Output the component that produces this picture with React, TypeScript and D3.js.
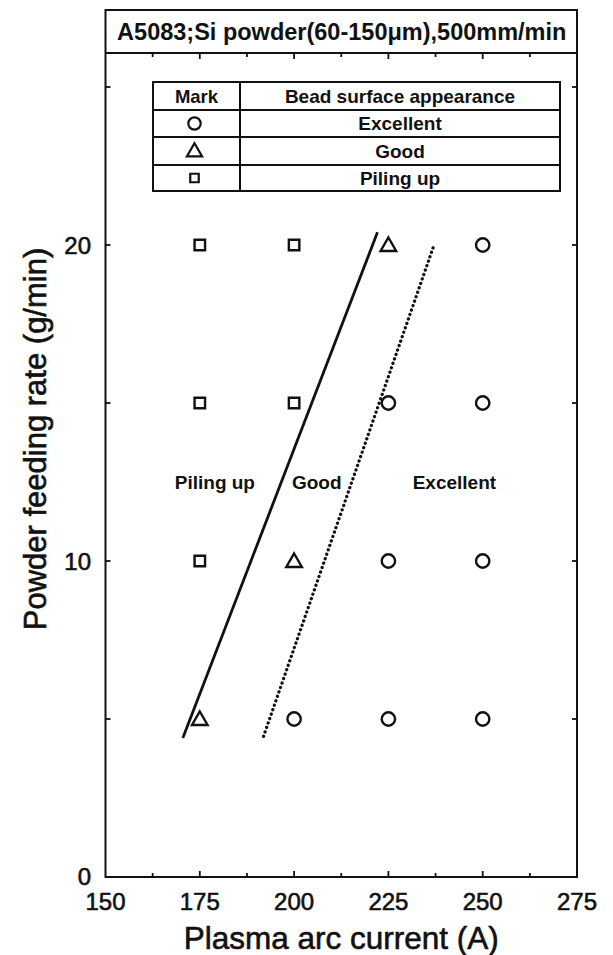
import React from 'react';
import * as d3 from 'd3';

// measured points: plasma arc current (A) vs powder feeding rate (g/min)
const currents = [175, 200, 225, 250];
const feedRates = [20, 15, 10, 5];
// mark at each (current, rate); rows follow currents, columns follow feedRates
const marks = [
  ['square', 'square', 'square', 'triangle'],
  ['square', 'square', 'triangle', 'circle'],
  ['triangle', 'circle', 'circle', 'circle'],
  ['circle', 'circle', 'circle', 'circle'],
];

const legendMarks = ['circle', 'triangle', 'square'];
const legendLabels = ['Excellent', 'Good', 'Piling up'];

// boundary lines [current, rate]
const goodLimit: [number, number][] = [[170.5, 4.4], [222.1, 20.4]];
const excellentLimit: [number, number][] = [[191.9, 4.45], [237.1, 20.0]];

const regionLabels = ['Piling up', 'Good', 'Excellent'];
const regionCurrents = [179, 206, 242.5];
const regionRate = 12.5;

const xTicks = [150, 175, 200, 225, 250, 275];
const yTicks = [0, 10, 20];

const W = 613;
const H = 955;
const left = 105.5;
const right = 577;
const bottom = 877;
const frameTop = 10;
const titleLine = 53;

const FONT = '"Liberation Sans", Arial, Helvetica, sans-serif';
const INK = '#111';

const symbolType: Record<string, d3.SymbolType> = {
  circle: d3.symbolCircle,
  triangle: d3.symbolTriangle,
  square: d3.symbolSquare,
};
const symbolSize: Record<string, number> = {
  circle: 140,
  triangle: 105,
  square: 110,
};

function markPath(kind: string, size?: number) {
  return d3.symbol().type(symbolType[kind]).size(size ?? symbolSize[kind])() || '';
}

// slightly heavier regular text, like the scanned figure
const heavy = { stroke: INK, strokeWidth: 0.6, paintOrder: 'stroke' as const };

export default function App() {
  const x = d3.scaleLinear().domain([150, 275]).range([left, right]);
  const y = d3.scaleLinear().domain([0, 20]).range([bottom, 245]);

  const line = d3.line<[number, number]>()
    .x((d) => x(d[0]))
    .y((d) => y(d[1]));

  const xMinor = d3.range(150, 275.1, 12.5);
  const yMinor = d3.range(0, 25.1, 5);

  // legend table geometry
  const tL = 153, tR = 560, tDiv = 240;
  const rows = [82, 110, 137, 165, 191];

  return (
    <div style={{ position: 'absolute', left: 0, top: 0 }}>
      <svg width={W} height={H} style={{ display: 'block', background: '#fff' }} fontFamily={FONT}>
        {/* frame */}
        <rect x={left} y={frameTop} width={right - left} height={bottom - frameTop}
          fill="none" stroke={INK} strokeWidth={2} />
        <line x1={left} x2={right} y1={titleLine} y2={titleLine} stroke={INK} strokeWidth={2} />
        <text x={(left + right) / 2 + 0.5} y={39.5} textAnchor="middle" fontSize={23.5} fontWeight="bold" fill={INK}>
          A5083;Si powder(60-150μm),500mm/min
        </text>

        {/* x ticks bottom and top */}
        {xMinor.map((v, i) => {
          const len = i % 2 === 0 ? 6 : 4;
          if (v === 150 || v === 275) return null;
          return (
            <g key={'xt' + v}>
              <line x1={x(v)} x2={x(v)} y1={bottom} y2={bottom - len} stroke={INK} strokeWidth={1.8} />
              <line x1={x(v)} x2={x(v)} y1={titleLine} y2={titleLine + len} stroke={INK} strokeWidth={1.8} />
            </g>
          );
        })}
        {/* y ticks left and right */}
        {yMinor.map((v) => {
          if (v === 0) return null;
          const len = 5;
          return (
            <g key={'yt' + v}>
              <line x1={left} x2={left + len} y1={y(v)} y2={y(v)} stroke={INK} strokeWidth={1.8} />
              <line x1={right} x2={right - len} y1={y(v)} y2={y(v)} stroke={INK} strokeWidth={1.8} />
            </g>
          );
        })}

        {/* tick labels */}
        {xTicks.map((v) => (
          <text key={'xl' + v} x={x(v)} y={910} textAnchor="middle" fontSize={24} fill={INK} {...heavy}>{v}</text>
        ))}
        {yTicks.map((v) => (
          <text key={'yl' + v} x={91} y={v === 0 ? 885 : y(v) + 8.5} textAnchor="end" fontSize={24} fill={INK} {...heavy}>{v}</text>
        ))}

        {/* axis titles */}
        <text x={(left + right) / 2} y={949} textAnchor="middle" fontSize={31.5} fill={INK} {...heavy}>
          Plasma arc current (A)
        </text>
        <text transform={`translate(46, 439) rotate(-90)`} textAnchor="middle" fontSize={31} fill={INK} {...heavy}>
          Powder feeding rate (g/min)
        </text>

        {/* legend table */}
        <rect x={tL} y={rows[0]} width={tR - tL} height={rows[4] - rows[0]} fill="#fff" stroke={INK} strokeWidth={2} />
        {rows.slice(1, 4).map((r) => (
          <line key={'r' + r} x1={tL} x2={tR} y1={r} y2={r} stroke={INK} strokeWidth={2} />
        ))}
        <line x1={tDiv} x2={tDiv} y1={rows[0]} y2={rows[4]} stroke={INK} strokeWidth={2} />
        <text x={(tL + tDiv) / 2} y={(rows[0] + rows[1]) / 2 + 6.5} textAnchor="middle" fontSize={18.5} fontWeight="bold" fill={INK}>Mark</text>
        <text x={(tDiv + tR) / 2} y={(rows[0] + rows[1]) / 2 + 6.5} textAnchor="middle" fontSize={19} fontWeight="bold" fill={INK}>Bead surface appearance</text>
        {legendMarks.map((m, i) => {
          const cy = (rows[i + 1] + rows[i + 2]) / 2;
          return (
            <g key={'lg' + m}>
              <path d={markPath(m, m === 'square' ? 72 : m === 'circle' ? 120 : 100)}
                transform={`translate(${(tL + tDiv) / 2 - 2},${cy + (m === 'triangle' ? 1 : 0)})`}
                fill="none" stroke={INK} strokeWidth={2.2} />
              <text x={(tDiv + tR) / 2} y={cy + 6.5} textAnchor="middle" fontSize={19} fontWeight="bold" fill={INK}>{legendLabels[i]}</text>
            </g>
          );
        })}

        {/* boundary lines */}
        <path d={line(goodLimit) || ''} fill="none" stroke={INK} strokeWidth={2.8} />
        <path d={line(excellentLimit) || ''} fill="none" stroke={INK} strokeWidth={3.3}
          strokeDasharray="0.1 4.6" strokeLinecap="round" />

        {/* markers */}
        {currents.map((c, i) =>
          feedRates.map((r, j) => {
            const kind = marks[i][j];
            return (
              <path key={`m${c}-${r}`} d={markPath(kind)}
                transform={`translate(${x(c)},${y(r) + (kind === 'triangle' ? 1.5 : 0)})`}
                fill="none" stroke={INK} strokeWidth={2.4} />
            );
          })
        )}

        {/* region labels */}
        {regionLabels.map((t, i) => (
          <text key={'rl' + t} x={x(regionCurrents[i])} y={y(regionRate) + 6.5} textAnchor="middle"
            fontSize={19} fontWeight="bold" fill={INK}>{t}</text>
        ))}
      </svg>
    </div>
  );
}
